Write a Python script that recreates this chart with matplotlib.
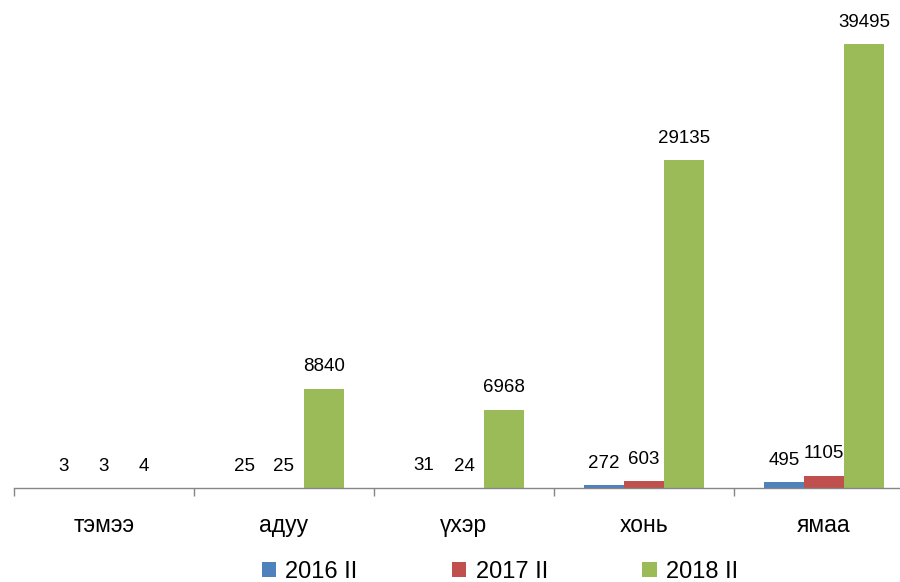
import matplotlib.pyplot as plt
import numpy as np

# ── Data ──────────────────────────────────────────────────────────────────────

categories = ['тэмээ', 'адуу', 'үхэр', 'хонь', 'ямаа']
series_names = ['2016 II', '2017 II', '2018 II']
values_2016 = [3, 25, 31, 272, 495]
values_2017 = [3, 25, 24, 603, 1105]
values_2018 = [4, 8840, 6968, 29135, 39495]

colors = ['#4F81BD', '#C0504D', '#9BBB59']

plt.rcParams['font.family'] = ['Liberation Sans', 'DejaVu Sans']

# ── Figure ────────────────────────────────────────────────────────────────────

fig = plt.figure(figsize=(9, 5.82), dpi=100)
# axes extends a bit past the right edge, as in the reference
ax = fig.add_axes([14 / 900, 1 - 488 / 582, 900 / 900, 488 / 582])

x = np.arange(len(categories))
width = 0.2222
all_series = [values_2016, values_2017, values_2018]

for i, (vals, name, col) in enumerate(zip(all_series, series_names, colors)):
    xs = x + (i - 1) * width
    ax.bar(xs, vals, width=width, color=col, label=name, zorder=2)
    for xi, v in zip(xs, vals):
        ax.annotate(str(v), (xi, v), xytext=(0, 9.5), textcoords='offset points',
                    ha='center', va='bottom', fontsize=13.5, color='#000000')

ax.set_xlim(-0.5, 4.5)
ax.set_ylim(0, 43400)

for side in ['top', 'right', 'left']:
    ax.spines[side].set_visible(False)
ax.spines['bottom'].set_color('#868686')
ax.spines['bottom'].set_linewidth(1.0)

ax.set_yticks([])
ax.set_xticks(x)
ax.set_xticklabels(categories, fontsize=16.5)
ax.tick_params(axis='x', which='major', length=0, pad=19)
ax.set_xticks(np.arange(-0.5, 5, 1), minor=True)
ax.tick_params(axis='x', which='minor', length=6, width=1.0, color='#868686',
               direction='out')

fig.legend(loc='center', bbox_to_anchor=(500 / 900, 1 - 572 / 582), ncol=3,
           frameon=False, fontsize=17, handlelength=0.6, handleheight=0.6,
           handletextpad=0.4, columnspacing=4.0, borderpad=0)

fig.savefig('out.png', dpi=100)
